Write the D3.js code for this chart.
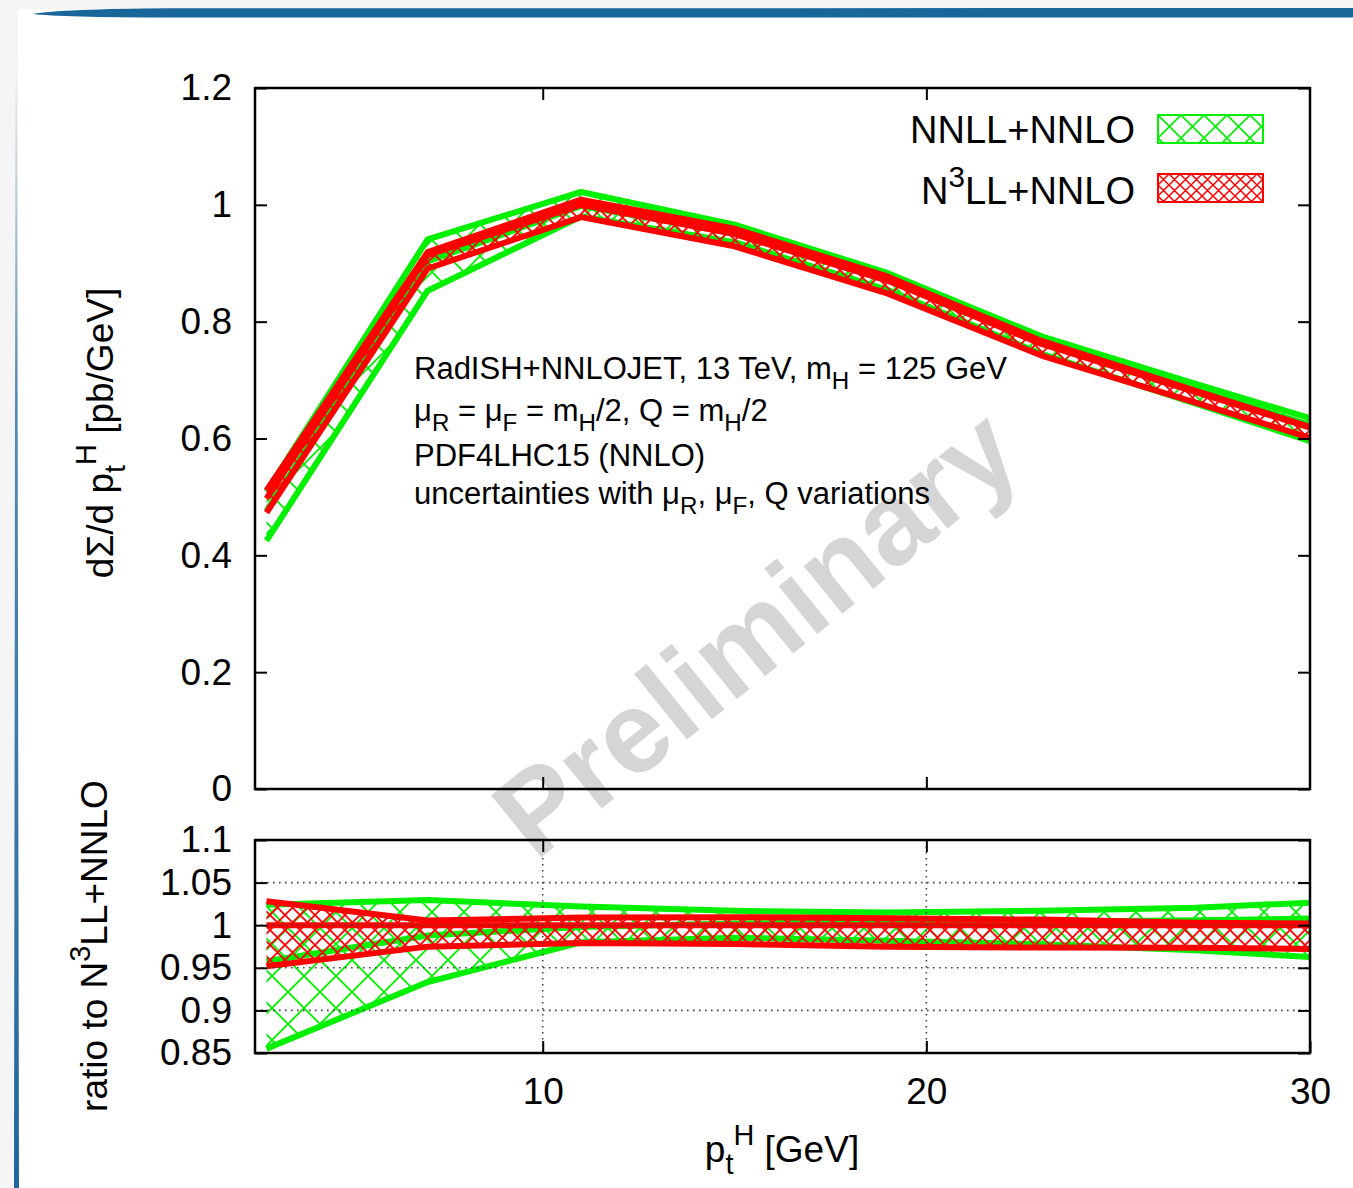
<!DOCTYPE html>
<html><head><meta charset="utf-8">
<script src="https://cdn.jsdelivr.net/npm/d3@7"></script>
<style>body{margin:0;background:#fff} svg{display:block} text{font-family:"Liberation Sans",Arial,Helvetica,sans-serif}</style>
</head><body><svg id="c" width="1353" height="1188"></svg>
<script>
// ---- data ----
const ptH = [2.8, 7, 11, 15, 19, 23, 27, 31];
const n3llCentral = [0.497, 0.914, 1.000, 0.950, 0.870, 0.762, 0.680, 0.598];
const n3llUpper   = [0.511, 0.919, 1.009, 0.959, 0.877, 0.767, 0.682, 0.599];
const n3llLower   = [0.473, 0.891, 0.979, 0.929, 0.848, 0.742, 0.662, 0.581];
const nnllCentral = [0.476, 0.903, 0.998, 0.952, 0.873, 0.765, 0.684, 0.603];
const nnllUpper   = [0.509, 0.941, 1.022, 0.966, 0.883, 0.775, 0.694, 0.615];
const nnllLower   = [0.425, 0.853, 0.980, 0.936, 0.854, 0.745, 0.660, 0.574];
const xTickLabels = [10, 20, 30];
const xInnerTicks = [10, 20];
const yTopTicks = [0, 0.2, 0.4, 0.6, 0.8, 1, 1.2];
const yRatioTicks = [0.85, 0.9, 0.95, 1, 1.05, 1.1];
const yRatioGrid = [0.9, 0.95, 1, 1.05];
const seriesNames = ["NNLL+NNLO", "N3LL+NNLO"];

const GREEN = "#00f000", RED = "#ff0000";
const svg = d3.select("#c");
const defs = svg.append("defs");

const X  = d3.scaleLinear().domain([2.5, 30]).range([255, 1310]);
const YT = d3.scaleLinear().domain([0, 1.2]).range([789, 88]);
const YR = d3.scaleLinear().domain([0.85, 1.1]).range([1053, 840]);

// ---- slide decorations ----
svg.append("rect").attr("x",0).attr("y",0).attr("width",1353).attr("height",1188).attr("fill","#fff");
svg.append("rect").attr("x",0).attr("y",0).attr("width",1353).attr("height",9).attr("fill","#f5f5f5");
svg.append("rect").attr("x",0).attr("y",0).attr("width",18).attr("height",1188).attr("fill","#f5f5f5");
const vg = defs.append("linearGradient").attr("id","vgrad").attr("x1",0).attr("y1",0).attr("x2",0).attr("y2",1);
vg.append("stop").attr("offset",0).attr("stop-color","#2a6fa5").attr("stop-opacity",0);
vg.append("stop").attr("offset",0.3).attr("stop-color","#2a6fa5").attr("stop-opacity",0.8);
vg.append("stop").attr("offset",1).attr("stop-color","#1f669c").attr("stop-opacity",1);
svg.append("path").attr("d","M15.5,60 L17,60 L19,1188 L14,1188 Z").attr("fill","url(#vgrad)");
svg.append("path").attr("d","M33,14 Q60,9 170,8.3 L1353,8 L1353,17.5 L170,17.6 Q60,17.2 33,14 Z").attr("fill","#18669a");

// ---- patterns & clips ----
function hatch(id, P, color, sw, ox, oy) {
  const p = defs.append("pattern").attr("id", id).attr("patternUnits","userSpaceOnUse")
    .attr("width", P).attr("height", P).attr("x", ox||0).attr("y", oy||0);
  let d = "";
  for (let k = -1; k <= 1; k++) {
    d += `M${-P},${-P+k*P}L${2*P},${2*P+k*P}`;
    d += `M${-P},${2*P+k*P}L${2*P},${-P+k*P}`;
  }
  p.append("path").attr("d", d).attr("stroke", color).attr("stroke-width", sw).attr("fill","none");
}
hatch("hG", 32, GREEN, 1.8);
hatch("hR", 15, RED, 1.8);
hatch("hGl", 23, GREEN, 1.6, 1158, 115);
hatch("hRl", 11, RED, 1.5, 1158, 174);
defs.append("clipPath").attr("id","clipT").append("rect").attr("x",255).attr("y",88).attr("width",1055).attr("height",701);
defs.append("clipPath").attr("id","clipR").append("rect").attr("x",255).attr("y",840).attr("width",1055).attr("height",213);

// ---- bands ----
function drawBand(g, Y, lo, hi, mid, color, pat, tf) {
  const pts = ptH.map((x, i) => ({x, lo: tf(lo[i], i), hi: tf(hi[i], i), mid: tf(mid[i], i)}));
  g.append("path").datum(pts)
    .attr("d", d3.area().x(d => X(d.x)).y0(d => Y(d.lo)).y1(d => Y(d.hi)))
    .attr("fill", `url(#${pat})`);
  for (const k of ["hi", "lo", "mid"]) {
    g.append("path").datum(pts)
      .attr("d", d3.line().x(d => X(d.x)).y(d => Y(d[k])))
      .attr("fill","none").attr("stroke", color).attr("stroke-width", 6)
      .attr("stroke-linejoin","round");
  }
}
const gT = svg.append("g").attr("clip-path","url(#clipT)");
const ident = v => v;
drawBand(gT, YT, nnllLower, nnllUpper, nnllCentral, GREEN, "hG", ident);
drawBand(gT, YT, n3llLower, n3llUpper, n3llCentral, RED, "hR", ident);

const gR = svg.append("g").attr("clip-path","url(#clipR)");
const ratio = (v, i) => v / n3llCentral[i];
drawBand(gR, YR, nnllLower, nnllUpper, nnllCentral, GREEN, "hG", ratio);
drawBand(gR, YR, n3llLower, n3llUpper, n3llCentral, RED, "hR", ratio);

// grid (ratio panel, in front)
const grid = svg.append("g").attr("stroke","#444").attr("stroke-width",1.6).attr("stroke-dasharray","1.6,4.4");
yRatioGrid.forEach(v => grid.append("line").attr("x1",255).attr("x2",1310).attr("y1",YR(v)).attr("y2",YR(v)));
xInnerTicks.forEach(v => grid.append("line").attr("x1",X(v)).attr("x2",X(v)).attr("y1",840).attr("y2",1053));

// ---- watermark ----
svg.append("g").attr("transform","translate(762,640) rotate(-39)")
  .append("text").attr("x",0).attr("y",30).attr("text-anchor","middle")
  .attr("font-size",116).attr("font-weight","bold").attr("fill","#d5d5d5").text("Preliminary");

// ---- axes ----
function styleAxis(g) {
  g.select(".domain").remove();
  g.selectAll(".tick line").attr("stroke","#000").attr("stroke-width",2);
  g.selectAll("text").attr("font-family","Liberation Sans, Arial, sans-serif").attr("font-size",37).attr("fill","#000");
  g.attr("font-family", null).attr("font-size", null);
}
const fmt = d => String(d);
svg.append("g").attr("transform","translate(255,0)").call(d3.axisLeft(YT).tickValues(yTopTicks).tickSize(-12).tickPadding(23).tickFormat(fmt)).call(styleAxis);
svg.append("g").attr("transform","translate(1310,0)").call(d3.axisRight(YT).tickValues(yTopTicks).tickSize(-12).tickFormat("")).call(styleAxis);
svg.append("g").attr("transform","translate(0,789)").call(d3.axisBottom(X).tickValues(xInnerTicks).tickSize(-12).tickFormat("")).call(styleAxis);
svg.append("g").attr("transform","translate(0,88)").call(d3.axisTop(X).tickValues(xInnerTicks).tickSize(-12).tickFormat("")).call(styleAxis);

svg.append("g").attr("transform","translate(255,0)").call(d3.axisLeft(YR).tickValues(yRatioTicks).tickSize(-12).tickPadding(23).tickFormat(fmt)).call(styleAxis);
svg.append("g").attr("transform","translate(1310,0)").call(d3.axisRight(YR).tickValues(yRatioTicks).tickSize(-12).tickFormat("")).call(styleAxis);
svg.append("g").attr("transform","translate(0,1053)").call(d3.axisBottom(X).tickValues(xTickLabels).tickSize(-12).tickPadding(25).tickFormat(fmt)).call(styleAxis);
svg.append("g").attr("transform","translate(0,840)").call(d3.axisTop(X).tickValues(xInnerTicks).tickSize(-12).tickFormat("")).call(styleAxis);

// frames
svg.append("rect").attr("x",255).attr("y",88).attr("width",1055).attr("height",701).attr("fill","none").attr("stroke","#000").attr("stroke-width",2.5);
svg.append("rect").attr("x",255).attr("y",840).attr("width",1055).attr("height",213).attr("fill","none").attr("stroke","#000").attr("stroke-width",2.5);

// ---- rich text helper ----
function rich(g, x, y, parts, size, anchor) {
  const t = g.append("text").attr("x", x).attr("y", y).attr("font-size", size)
    .attr("text-anchor", anchor || "start").attr("fill","#000");
  let shift = 0;
  parts.forEach(p => {
    const [s, type] = typeof p === "string" ? [p, null] : p;
    const target = type === "sub" ? size*0.33 : type === "sup" ? -size*0.46 : 0;
    const ts = t.append("tspan").text(s).attr("dy", target - shift);
    if (type) ts.attr("font-size", size*0.78);
    shift = target;
  });
  return t;
}

// axis titles
rich(svg, 782, 1162, ["p", ["t","sub"], ["H","sup"], " [GeV]"], 37, "middle");
rich(svg.append("g").attr("transform","translate(113,433) rotate(-90)"), 0, 0,
  ["dΣ/d p", ["t","sub"], ["H","sup"], " [pb/GeV]"], 37, "middle");
rich(svg.append("g").attr("transform","translate(107,946) rotate(-90)"), 0, 0,
  ["ratio to N", ["3","sup"], "LL+NNLO"], 37, "middle");

// annotation block
const ann = svg.append("g");
rich(ann, 414, 379, ["RadISH+NNLOJET, 13 TeV, m", ["H","sub"], " = 125 GeV"], 31);
rich(ann, 414, 421, ["μ", ["R","sub"], " = μ", ["F","sub"], " = m", ["H","sub"], "/2, Q = m", ["H","sub"], "/2"], 31);
rich(ann, 414, 466, ["PDF4LHC15 (NNLO)"], 31);
rich(ann, 414, 504, ["uncertainties with μ", ["R","sub"], ", μ", ["F","sub"], ", Q variations"], 31);

// legend
rich(svg, 1135, 143, [seriesNames[0]], 38, "end");
rich(svg, 1135, 204, ["N", ["3","sup"], "LL+NNLO"], 38, "end");
svg.append("rect").attr("x",1158).attr("y",115).attr("width",105).attr("height",28).attr("fill","url(#hGl)").attr("stroke",GREEN).attr("stroke-width",2);
svg.append("rect").attr("x",1158).attr("y",174).attr("width",105).attr("height",28).attr("fill","url(#hRl)").attr("stroke",RED).attr("stroke-width",2);
</script></body></html>
